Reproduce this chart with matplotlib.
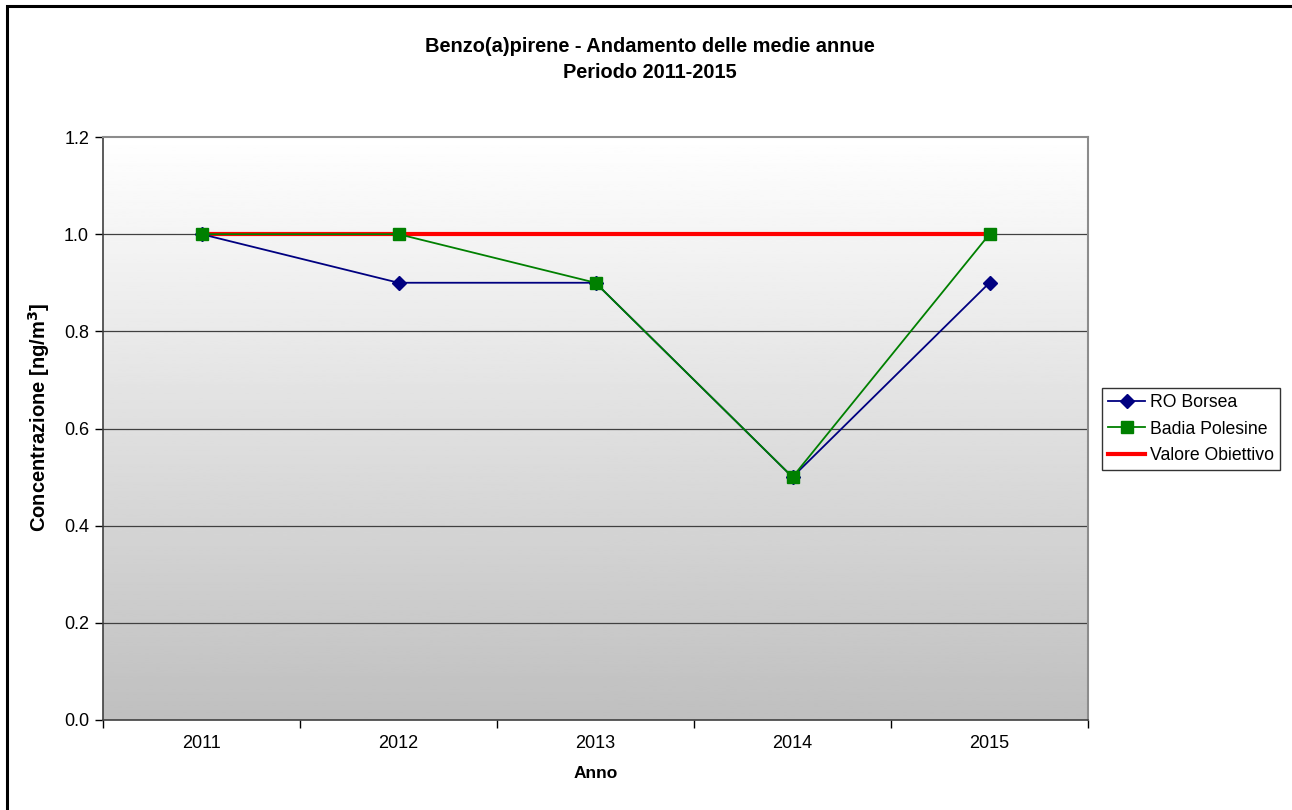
import matplotlib.pyplot as plt
import numpy as np
from matplotlib.patches import Rectangle

plt.rcParams['font.family'] = ['Liberation Sans', 'DejaVu Sans']

# dati
anni = ["2011", "2012", "2013", "2014", "2015"]
ro_borsea = [1.0, 0.9, 0.9, 0.5, 0.9]
badia_polesine = [1.0, 1.0, 0.9, 0.5, 1.0]
valore_obiettivo = [1.0, 1.0, 1.0, 1.0, 1.0]
y_ticks = [0.0, 0.2, 0.4, 0.6, 0.8, 1.0, 1.2]

fig = plt.figure(figsize=(12.92, 8.10), dpi=100)
ax = fig.add_axes([103 / 1292, 90 / 810, 985 / 1292, 583 / 810])

x = np.arange(len(anni))
ax.set_xlim(-0.5, len(anni) - 0.5)
ax.set_ylim(0, 1.2)

# sfondo sfumato (bianco -> grigio)
grad = np.linspace(1.0, 0.75, 256).reshape(-1, 1)
ax.imshow(grad, cmap="gray", vmin=0, vmax=1, aspect="auto",
          extent=(-0.5, len(anni) - 0.5, 0, 1.2), origin="upper", zorder=0)

for yv in y_ticks[1:-1]:
    ax.axhline(yv, color="#404040", lw=0.9, zorder=1)

ax.plot(x, valore_obiettivo, color="#ff0000", lw=3, zorder=2, label="Valore Obiettivo")
ax.plot(x, ro_borsea, color="#000080", lw=1.3, marker="D", ms=7.5, zorder=3, label="RO Borsea")
ax.plot(x, badia_polesine, color="#008000", lw=1.3, marker="s", ms=8, zorder=4, label="Badia Polesine")

# assi
ax.set_yticks(y_ticks)
ax.set_yticklabels([f"{v:.1f}" for v in y_ticks], fontsize=13)
ax.set_xticks(x)
ax.set_xticklabels(anni, fontsize=13)
ax.set_xticks(np.arange(-0.5, len(anni)), minor=True)
ax.tick_params(axis="x", which="major", length=0, pad=11)
ax.tick_params(axis="x", which="minor", length=6, width=1, color="black", direction="out")
ax.tick_params(axis="y", length=6, width=1, direction="out", pad=4)
for s in ["top", "right"]:
    ax.spines[s].set_color("#8c8c8c")
    ax.spines[s].set_linewidth(1.5)
for s in ["left", "bottom"]:
    ax.spines[s].set_color("#404040")
    ax.spines[s].set_linewidth(1.2)

ax.set_xlabel("Anno", fontsize=12.5, fontweight="bold", labelpad=10)
ax.set_ylabel("Concentrazione [ng/m$^{\\mathbf{3}}$]", fontsize=14.5, fontweight="bold")
ax.yaxis.set_label_coords(-0.052, 0.52)

fig.text(0.503, 1 - 46 / 810, "Benzo(a)pirene - Andamento delle medie annue",
         ha="center", va="center", fontsize=14.4, fontweight="bold")
fig.text(0.503, 1 - 73 / 810, "Periodo 2011-2015",
         ha="center", va="center", fontsize=14.4, fontweight="bold")

# legenda
h, l = ax.get_legend_handles_labels()
order = [1, 2, 0]
leg = fig.legend([h[i] for i in order], [l[i] for i in order],
                 loc="center left", bbox_to_anchor=(1102 / 1292, 1 - 429 / 810),
                 fontsize=12.7, frameon=True, fancybox=False, edgecolor="black",
                 borderaxespad=0, handlelength=2.1, handletextpad=0.25,
                 borderpad=0.35, labelspacing=0.55)
leg.get_frame().set_linewidth(1.0)

# bordo della figura
fig.patches.append(Rectangle((7 / 1292, -0.02), 1.1, 1.02 - 6 / 810,
                             transform=fig.transFigure, fill=False,
                             edgecolor="black", lw=2.2))

fig.savefig("out.png", dpi=100)
